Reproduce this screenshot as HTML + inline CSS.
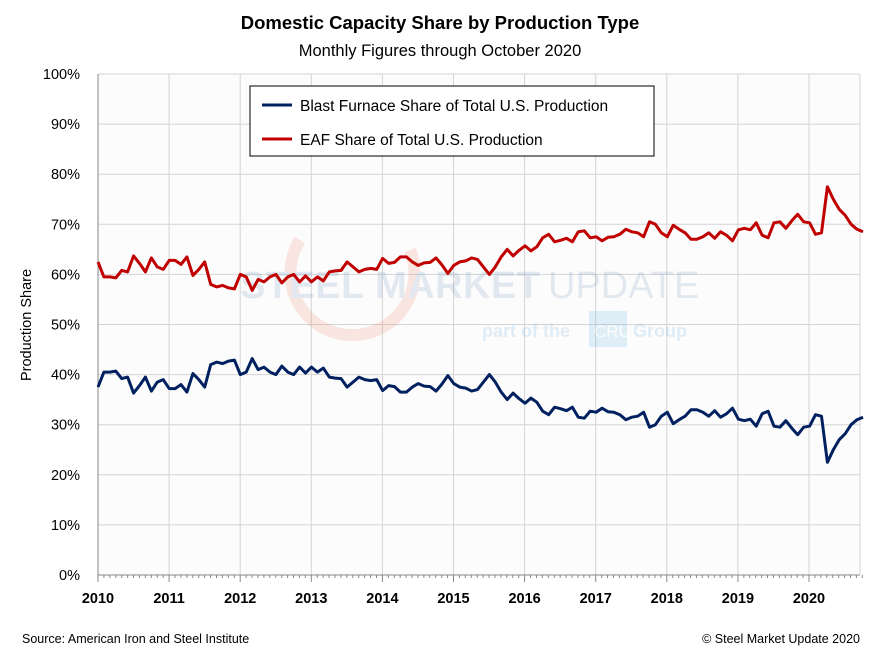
<!DOCTYPE html>
<html><head><meta charset="utf-8"><style>
body{margin:0;background:#fff;font-family:"Liberation Sans",sans-serif}
</style></head><body>
<svg id="c" width="880" height="653" xmlns="http://www.w3.org/2000/svg" style="display:block">
<rect x="98" y="74" width="762" height="501" fill="#fcfcfc"/>
<g id="grid" stroke="#d4d4d4" stroke-width="1"></g>
<g opacity="0.18">
<path d="M300,240 A62,62 0 1,0 410,250" fill="none" stroke="#f08060" stroke-width="12"/>
<text x="240" y="298" font-size="38" font-weight="bold" fill="#7090c0" textLength="300">STEEL MARKET</text>
<text x="548" y="298" font-size="38" fill="#7090c0">UPDATE</text>
<text x="482" y="337" font-size="18" font-weight="bold" fill="#60a8e0">part of the</text>
<rect x="589" y="311" width="38" height="36" fill="#60b0e0"/>
<text x="594" y="337" font-size="17" fill="#fff">CRU</text>
<text x="633" y="337" font-size="18" font-weight="bold" fill="#60a8e0">Group</text>
</g>
<line x1="98" y1="74" x2="98" y2="575" stroke="#888"/>
<line x1="98" y1="575" x2="860" y2="575" stroke="#888"/>
<g id="lbl" font-size="14.5" fill="#000"></g>
<polyline id="eaf" fill="none" stroke="#c00000" stroke-width="3" stroke-linejoin="round"/>
<polyline id="bf" fill="none" stroke="#002060" stroke-width="3" stroke-linejoin="round"/>
<rect x="250" y="86" width="404" height="70" fill="#fff" stroke="#000"/>
<line x1="262" y1="105" x2="292" y2="105" stroke="#002060" stroke-width="3"/>
<text x="300" y="111" font-size="15.5">Blast Furnace Share of Total U.S. Production</text>
<line x1="262" y1="139" x2="292" y2="139" stroke="#c00000" stroke-width="3"/>
<text x="300" y="145" font-size="15.5">EAF Share of Total U.S. Production</text>
<text x="440" y="29" font-size="18.5" font-weight="bold" text-anchor="middle">Domestic Capacity Share by Production Type</text>
<text x="440" y="56" font-size="16.5" text-anchor="middle">Monthly Figures through October 2020</text>
<text transform="translate(31,325) rotate(-90)" font-size="14.5" text-anchor="middle">Production Share</text>
<text x="22" y="643" font-size="12.5">Source: American Iron and Steel Institute</text>
<text x="860" y="643" font-size="12.5" text-anchor="end">© Steel Market Update 2020</text>
</svg>
<script>
var e=[62.5,59.5,59.5,59.3,60.8,60.5,63.7,62.2,60.5,63.3,61.5,61,
62.8,62.8,62,63.5,59.8,61,62.5,58,57.5,57.8,57.3,57.1,
60,59.5,56.8,59,58.5,59.5,60,58.3,59.5,60,58.5,59.7,
58.5,59.5,58.7,60.5,60.7,60.8,62.5,61.5,60.5,61,61.2,61,
63.2,62.2,62.4,63.5,63.5,62.5,61.8,62.3,62.4,63.3,61.9,60.2,
61.8,62.5,62.7,63.3,63,61.5,60,61.5,63.5,65,63.7,64.8,
65.7,64.7,65.5,67.3,68,66.5,66.8,67.2,66.5,68.5,68.7,67.3,
67.5,66.7,67.4,67.5,68,69,68.5,68.3,67.5,70.5,70,68.3,
67.5,69.8,69,68.3,67,67,67.5,68.3,67.2,68.5,67.8,66.7,
68.9,69.2,68.9,70.3,67.8,67.3,70.3,70.5,69.2,70.7,72,70.5,
70.3,68,68.3,77.5,75,73,71.8,70,69,68.5];
var X=function(i){return 98+i*762/128.5},Y=function(v){return 575-v*5.01};
var pe=[],pb=[];e.forEach(function(v,i){pe.push(X(i).toFixed(1)+","+Y(v).toFixed(1));pb.push(X(i).toFixed(1)+","+Y(100-v).toFixed(1));});
document.getElementById("eaf").setAttribute("points",pe.join(" "));
document.getElementById("bf").setAttribute("points",pb.join(" "));
var ns="http://www.w3.org/2000/svg",g=document.getElementById("grid"),l=document.getElementById("lbl");
function el(p,t,a,txt){var n=document.createElementNS(ns,t);for(var k in a)n.setAttribute(k,a[k]);if(txt)n.textContent=txt;p.appendChild(n);}
for(var k=0;k<=10;k++){var y=575-k*50.1;el(g,"line",{x1:98,x2:860,y1:y,y2:y});el(l,"text",{x:80,y:y+5,"text-anchor":"end"},k*10+"%");}
for(var k=0;k<=10;k++){var x=98+k*71.1;el(g,"line",{x1:x,x2:x,y1:74,y2:575});el(l,"text",{x:x,y:603,"text-anchor":"middle","font-weight":"bold"},""+(2010+k));}
el(g,"line",{x1:860,x2:860,y1:74,y2:575});
for(var m=0;m<130;m++){var x=98+m*71.1/12;el(g,"line",{x1:x,x2:x,y1:575,y2:m%12?578:582,stroke:"#888"});}
</script>
</body></html>
